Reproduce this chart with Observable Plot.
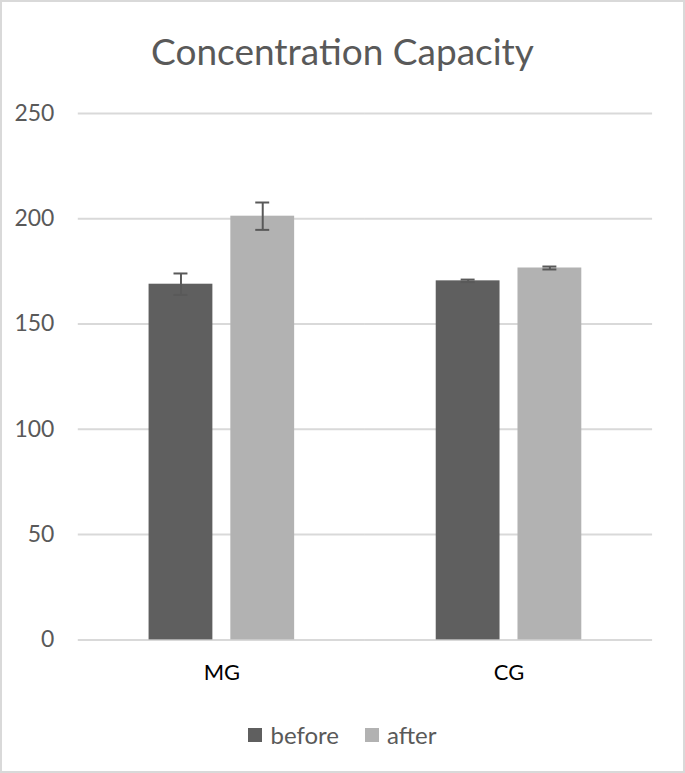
<!DOCTYPE html>
<html><head><meta charset="utf-8">
<script src="https://cdn.jsdelivr.net/npm/d3@7"></script>
<script src="https://cdn.jsdelivr.net/npm/@observablehq/plot@0.6"></script>
<style>
body{margin:0;background:#fff;}
#chart{position:relative;width:685px;height:773px;box-sizing:border-box;border:2px solid #d9d9d9;font-family:Lato,"Open Sans",sans-serif;overflow:hidden;background:#fff}
#title{position:absolute;left:0;right:0;top:30px;text-align:center;font-size:37px;line-height:37px;color:#595959;white-space:nowrap}
#plot{position:absolute;left:-2px;top:88px}
#legend{position:absolute;left:0;right:0;top:720px;height:26px;display:flex;justify-content:center;align-items:center;font-size:24px;line-height:26px;color:#595959}
#legend .item{display:flex;align-items:center;margin:0 13px}
#legend .sw{width:14px;height:14px;margin-right:8px}
</style>
</head><body>
<div id="chart">
  <div id="title"></div>
  <div id="plot"></div>
  <div id="legend"></div>
</div>
<script>
const titleText = "Concentration Capacity";
const groups = ["MG", "CG"];
const series = ["before", "after"];
const beforeValues = [168.9, 170.5];
const afterValues = [201.2, 176.6];
const beforeErrors = [5.1, 0.6];
const afterErrors = [6.5, 0.7];
const yTicks = [0, 50, 100, 150, 200, 250];
const seriesColors = ["#5f5f5f", "#b2b2b2"];

const data = [];
groups.forEach((g, i) => {
  data.push({group: g, series: "before", value: beforeValues[i], err: beforeErrors[i]});
  data.push({group: g, series: "after", value: afterValues[i], err: afterErrors[i]});
});

document.getElementById("title").textContent = titleText;

const errColor = "#595959";
const chart = Plot.plot({
  width: 685,
  height: 601,
  marginLeft: 78,
  marginRight: 31,
  marginTop: 23,
  marginBottom: 50,
  style: {fontFamily: "Lato, 'Open Sans', sans-serif", background: "transparent", overflow: "visible"},
  fx: {domain: groups, padding: 0, label: null},
  x: {domain: series, paddingInner: 0.22, paddingOuter: 0.86, axis: null},
  y: {domain: [0, 250], label: null},
  color: {domain: series, range: seriesColors},
  marks: [
    Plot.gridY(yTicks, {stroke: "#d9d9d9", strokeOpacity: 1, strokeWidth: 2}),
    Plot.barY(data, {fx: "group", x: "series", y: "value", fill: "series"}),
    Plot.ruleX(data, {fx: "group", x: "series", y1: d => d.value - d.err, y2: d => d.value + d.err, stroke: errColor, strokeWidth: 2}),
    Plot.tickY(data, {fx: "group", x: "series", y: d => d.value - d.err, stroke: errColor, strokeWidth: 2, insetLeft: 25, insetRight: 25}),
    Plot.tickY(data, {fx: "group", x: "series", y: d => d.value + d.err, stroke: errColor, strokeWidth: 2, insetLeft: 25, insetRight: 25}),
    Plot.axisY(yTicks, {tickSize: 0, tickPadding: 24, fontSize: 23, fill: "#595959", label: null}),
    Plot.axisFx({anchor: "bottom", tickSize: 0, tickPadding: 25, fontSize: 22, fill: "#000", label: null})
  ]
});
document.getElementById("plot").appendChild(chart);

const legend = document.getElementById("legend");
series.forEach((s, i) => {
  const item = document.createElement("div");
  item.className = "item";
  const sw = document.createElement("div");
  sw.className = "sw";
  sw.style.background = seriesColors[i];
  const lab = document.createElement("span");
  lab.textContent = s;
  item.appendChild(sw);
  item.appendChild(lab);
  legend.appendChild(item);
});
</script>
</body></html>
